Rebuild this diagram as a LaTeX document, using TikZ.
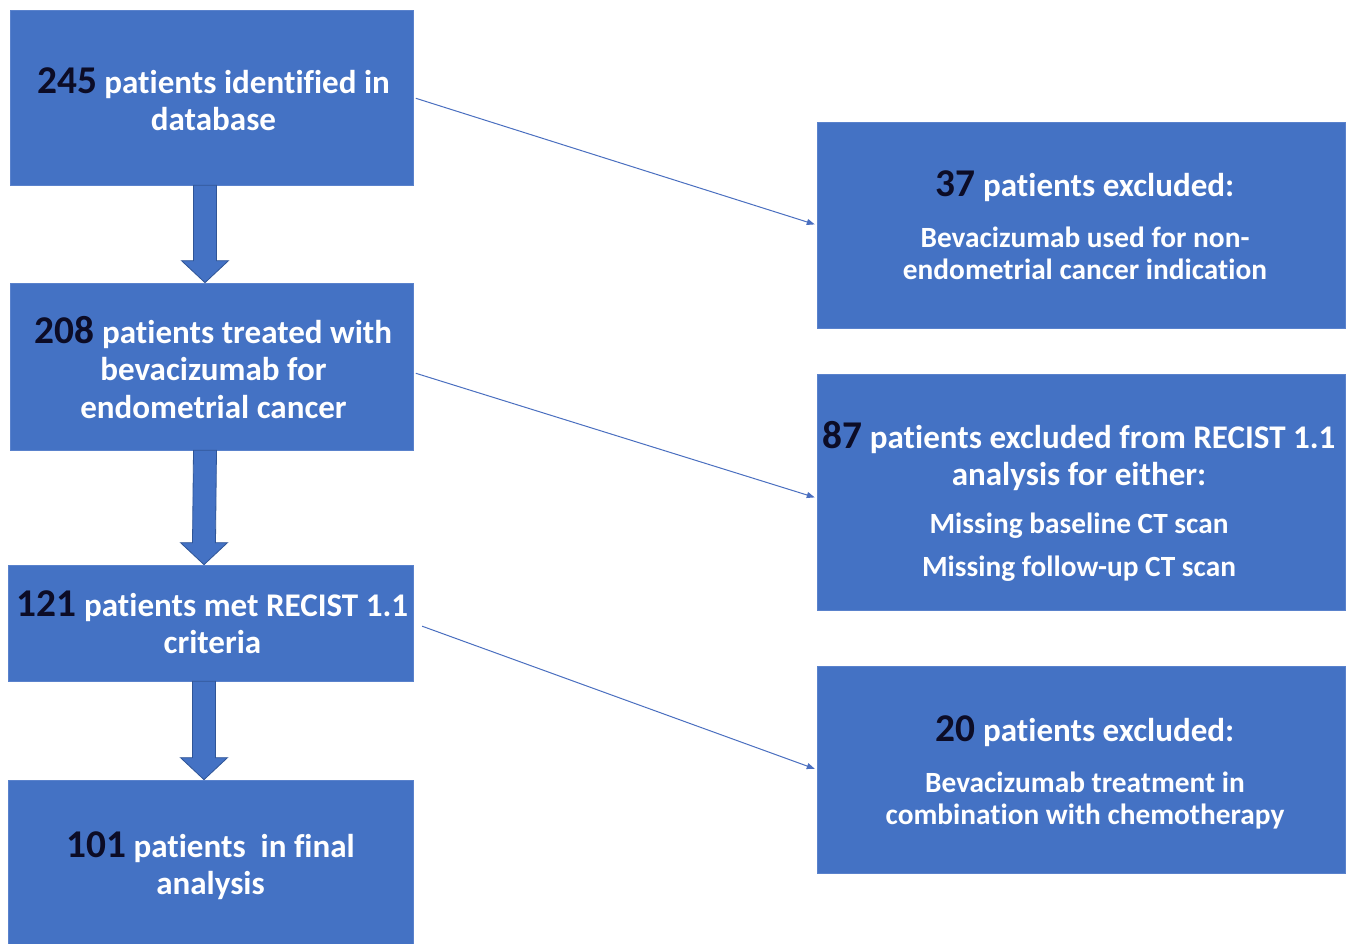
\documentclass[tikz,border=0pt]{standalone}
\usepackage{fontspec}
\setmainfont{Carlito}[Ligatures=NoCommon]
\usetikzlibrary{fit,calc,arrows.meta}
\definecolor{boxblue}{HTML}{4472C4}
\definecolor{boxedge}{HTML}{5A82CC}
\definecolor{arrowedge}{HTML}{2F5597}
\definecolor{numcol}{HTML}{0C0C26}
\definecolor{linecol}{HTML}{4A6FC0}
\newcommand\bignum[1]{{\color{numcol}\fontsize{29.5}{28}\selectfont #1}}
\newcommand\subtxt[1]{{\fontsize{22}{24}\selectfont #1}}
\tikzset{
  box/.style={fill=boxblue, draw=boxedge, line width=0.5pt, inner sep=0pt},
  txt/.style={inner sep=0pt, align=center, text=white, font=\bfseries\fontsize{24.8}{28}\selectfont},
  blockarrow/.style={fill=boxblue, draw=arrowedge, line width=0.6pt, line join=miter},
  thinlink/.style={draw=linecol, line width=0.75pt, -{Triangle[length=6pt,width=4.5pt]}},
}
\begin{document}
\begin{tikzpicture}[x=0.75pt,y=-0.75pt]
\useasboundingbox (0,0) rectangle (1351,944);
\fill[white] (0,0) rectangle (1351,944);
\begin{scope}
\clip (0,0) rectangle (1351,944);
% boxes
\node[box, fit={(10,10) (413,185)}] (b1) {};
\node[box, fit={(10,283) (413,450)}] (b2) {};
\node[box, fit={(8,565) (413,681)}] (b3) {};
\node[box, fit={(8,780) (413,952)}] (b4) {};
\node[box, fit={(817,122) (1345,328)}] (r1) {};
\node[box, fit={(817,374) (1345,610)}] (r2) {};
\node[box, fit={(817,666) (1345,873)}] (r3) {};
\end{scope}
% texts
\node[txt] (t1) at ($(b1.center)+(2,1.5)$) {\bignum{245} patients identified in\\database};
\node[txt] (t2) at ($(b2.center)+(2,1)$) {\bignum{208} patients treated with\\bevacizumab for\\endometrial cancer};
\node[txt] (t3) at ($(b3.center)+(2,-1)$) {\bignum{121} patients met RECIST 1.1\\criteria};
\node[txt] (t4) at ($(b4.center)+(0,0)$) {\bignum{101} patients\ \ in final\\analysis};
\node[txt] (u1) at ($(r1.center)+(4,0.5)$) {\bignum{37} patients excluded:\\[10pt]
  \subtxt{Bevacizumab used for non-}\\[-4pt]\subtxt{endometrial cancer indication}};
\node[txt] (u2) at ($(r2.center)+(-2,9)$) {\bignum{87} patients excluded from RECIST 1.1\\analysis for either:\\[8pt]
  \subtxt{Missing baseline CT scan}\\[4pt]\subtxt{Missing follow-up CT scan}};
\node[txt] (u3) at ($(r3.center)+(4,3)$) {\bignum{20} patients excluded:\\[10pt]
  \subtxt{Bevacizumab treatment in}\\[-4pt]\subtxt{combination with chemotherapy}};
% block arrows
\foreach \a/\b in {b1/b2, b2/b3, b3/b4}{
  \path[blockarrow]
    ($(\a.south)+(-18,0)$) -- ($(\a.south)+(5,0)$)
    -- ($(\b.north)+(5,-22)$) -- ($(\b.north)+(17,-22)$)
    -- ($(\b.north)+(-6.5,0)$)
    -- ($(\b.north)+(-30,-22)$) -- ($(\b.north)+(-18,-22)$) -- cycle;
}
% thin connectors
\draw[thinlink, shorten <=2pt, shorten >=1.5pt] (b1.east) -- (r1.west);
\draw[thinlink, shorten <=2pt, shorten >=1.5pt] ($(b2.east)+(0,6)$) -- ($(r2.west)+(0,6)$);
\draw[thinlink, shorten <=7pt, shorten >=1.5pt] (b3.east) -- (r3.west);
\end{tikzpicture}
\end{document}
